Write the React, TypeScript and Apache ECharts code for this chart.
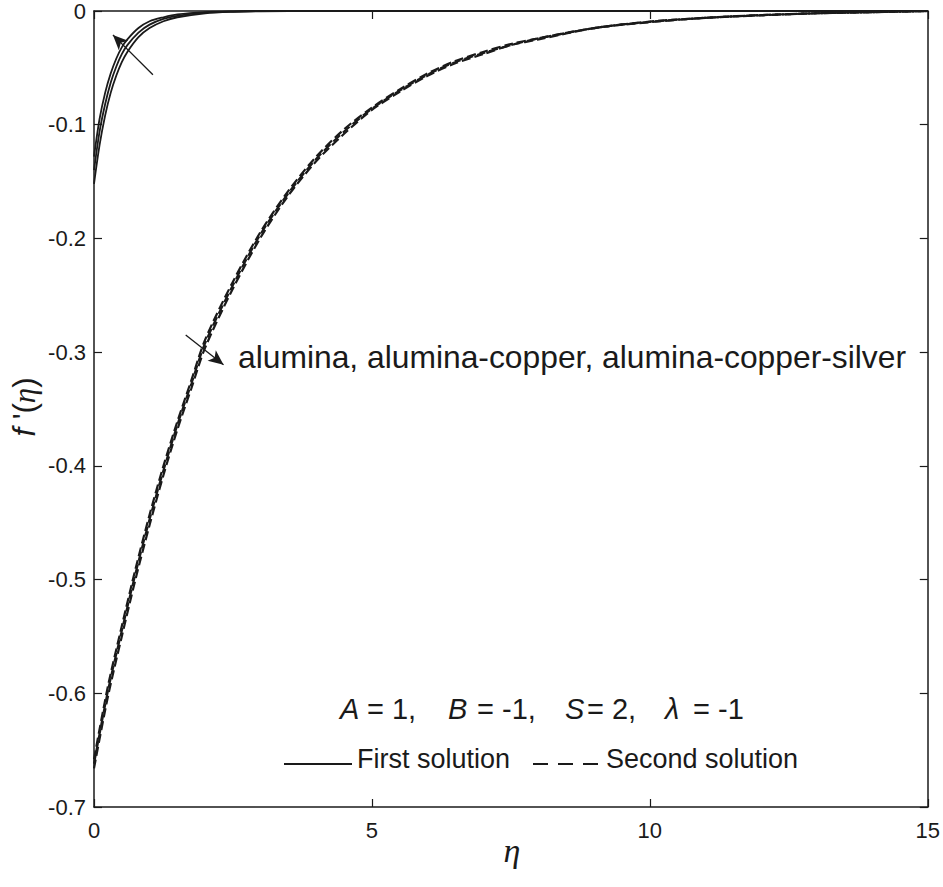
import React, { useEffect, useRef } from "react";
import * as echarts from "echarts";

// First solution (solid) — three nanofluids
const etaFirst = [0, 0.1, 0.2, 0.3, 0.4, 0.5, 0.6, 0.8, 1.0, 1.25, 1.5, 2, 2.5, 3, 4, 6, 10, 15];
const firstAlumina = [-0.152, -0.118, -0.092, -0.072, -0.057, -0.045, -0.036, -0.023, -0.015, -0.009, -0.0055, -0.002, -0.0007, -0.0002, 0, 0, 0, 0];
const firstAluminaCopper = [-0.140, -0.106, -0.082, -0.063, -0.049, -0.038, -0.030, -0.019, -0.012, -0.007, -0.0042, -0.0015, -0.0005, -0.0001, 0, 0, 0, 0];
const firstAluminaCopperSilver = [-0.128, -0.095, -0.072, -0.055, -0.042, -0.032, -0.025, -0.015, -0.009, -0.0055, -0.003, -0.001, -0.0003, 0, 0, 0, 0, 0];

// Second solution (dashed)
const etaSecond = [0, 0.25, 0.5, 0.75, 1, 1.25, 1.5, 1.75, 2, 2.5, 3, 3.5, 4, 4.5, 5, 5.5, 6, 6.5, 7, 7.5, 8, 9, 10, 11, 12, 13, 14, 15];
const secondAlumina = [-0.658, -0.594, -0.541, -0.490, -0.443, -0.400, -0.361, -0.325, -0.289, -0.238, -0.194, -0.158, -0.128, -0.104, -0.085, -0.069, -0.055, -0.044, -0.036, -0.029, -0.024, -0.015, -0.0093, -0.006, -0.0036, -0.002, -0.001, 0];
const secondAluminaCopper = [-0.662, -0.598, -0.545, -0.494, -0.447, -0.404, -0.364, -0.328, -0.292, -0.241, -0.196, -0.160, -0.130, -0.106, -0.086, -0.070, -0.056, -0.045, -0.037, -0.030, -0.024, -0.015, -0.0095, -0.006, -0.0037, -0.002, -0.001, 0];
const secondAluminaCopperSilver = [-0.666, -0.603, -0.550, -0.499, -0.452, -0.408, -0.368, -0.332, -0.296, -0.244, -0.199, -0.162, -0.132, -0.108, -0.087, -0.071, -0.057, -0.046, -0.038, -0.030, -0.025, -0.015, -0.0098, -0.006, -0.0038, -0.002, -0.001, 0];

// Annotation arrows (data coords: [tail, head])
const arrowFirst = [[1.06, -0.056], [0.34, -0.021]];
const arrowSecond = [[1.65, -0.285], [2.33, -0.311]];

const xTicks = { min: 0, max: 15, interval: 5 };
const yTicks = { min: -0.7, max: 0, interval: 0.1 };

const INK = "#1a1a1a";
const SANS = "'Liberation Sans', Arial, Helvetica, sans-serif";
const SERIF = "'Liberation Serif', 'Times New Roman', serif";

function pairs(xs: number[], ys: number[]) {
  return xs.map((x, i) => [x, ys[i]]);
}

export default function App() {
  const ref = useRef<HTMLDivElement>(null);
  useEffect(() => {
    document.body.style.margin = "0";
    if (!ref.current) return;
    const chart = echarts.init(ref.current, undefined, { renderer: "svg" });

    const axisCommon = {
      axisLine: { show: true, onZero: false, lineStyle: { color: INK, width: 1.5 } },
      axisTick: { show: true, inside: true, length: 8, lineStyle: { color: INK, width: 1.2 } },
      splitLine: { show: false },
    };

    const solid = (name: string, ys: number[]) => ({
      name,
      type: "line",
      data: pairs(etaFirst, ys),
      showSymbol: false,
      smooth: 0.3,
      lineStyle: { color: INK, width: 1.8, type: "solid" },
      z: 3,
    });
    const dashed = (name: string, ys: number[]) => ({
      name,
      type: "line",
      data: pairs(etaSecond, ys),
      showSymbol: false,
      smooth: 0.3,
      lineStyle: { color: INK, width: 2.2, type: [9, 4] },
      z: 3,
    });

    const arrowLine = (a: number[][]) => [
      { coord: a[0], symbol: "none" },
      { coord: a[1], symbol: "arrow", symbolSize: [10, 15] },
    ];

    const series: any[] = [
      {
        ...solid("First alumina", firstAlumina),
        markLine: {
          silent: true,
          animation: false,
          label: { show: false },
          lineStyle: { color: INK, width: 1.3, type: "solid" },
          data: [arrowLine(arrowFirst), arrowLine(arrowSecond)],
        },
      },
      solid("First alumina-copper", firstAluminaCopper),
      solid("First alumina-copper-silver", firstAluminaCopperSilver),
      dashed("Second alumina", secondAlumina),
      dashed("Second alumina-copper", secondAluminaCopper),
      dashed("Second alumina-copper-silver", secondAluminaCopperSilver),
    ];

    const textStyle = (text: string, size: number, extra: any = {}) => ({
      text,
      font: `${extra.italic ? "italic " : ""}${size}px ${extra.family || SANS}`,
      fill: INK,
      textAlign: extra.align || "left",
      textVerticalAlign: "middle",
    });

    const graphic: any[] = [
      // curve group label
      { type: "text", x: 238, y: 357, style: textStyle("alumina, alumina-copper, alumina-copper-silver", 31.8) },
      // parameters row
      { type: "text", x: 340, y: 709, style: textStyle("A", 29, { italic: true }) },
      { type: "text", x: 367, y: 709, style: textStyle("= 1,", 29) },
      { type: "text", x: 448, y: 709, style: textStyle("B", 29, { italic: true }) },
      { type: "text", x: 477, y: 709, style: textStyle("= -1,", 29) },
      { type: "text", x: 565, y: 709, style: textStyle("S", 29, { italic: true }) },
      { type: "text", x: 587, y: 709, style: textStyle("= 2,", 29) },
      { type: "text", x: 665, y: 709, style: textStyle("λ", 29, { italic: true }) },
      { type: "text", x: 693, y: 709, style: textStyle("= -1", 29) },
      // legend
      { type: "line", shape: { x1: 284, y1: 764, x2: 352, y2: 764 }, style: { stroke: INK, lineWidth: 1.8 } },
      { type: "text", x: 357, y: 759, style: textStyle("First solution", 27) },
      { type: "line", shape: { x1: 533, y1: 764, x2: 601, y2: 764 }, style: { stroke: INK, lineWidth: 1.8, lineDash: [15, 10] } },
      { type: "text", x: 606, y: 759, style: textStyle("Second solution", 27) },
      // axis titles
      { type: "text", x: 512, y: 850, style: textStyle("η", 34, { italic: true, family: SERIF, align: "center" }) },
      {
        type: "text",
        x: 24,
        y: 407,
        rotation: Math.PI / 2,
        style: {
          text: "{i|f}{n| '(}{g|η}{n|)}",
          textAlign: "center",
          textVerticalAlign: "middle",
          fill: INK,
          rich: {
            i: { font: `italic 31px ${SANS}`, fill: INK },
            n: { font: `31px ${SANS}`, fill: INK },
            g: { font: `italic 31px ${SERIF}`, fill: INK },
          },
        },
      },
    ];

    chart.setOption({
      animation: false,
      backgroundColor: "#ffffff",
      grid: { left: 94, right: 12, top: 7, bottom: 80, containLabel: false },
      xAxis: [
        {
          type: "value",
          ...xTicks,
          position: "bottom",
          ...axisCommon,
          axisLabel: { color: INK, fontSize: 22, fontFamily: SANS, margin: 12 },
        },
        {
          type: "value",
          ...xTicks,
          position: "top",
          ...axisCommon,
          axisLabel: { show: false },
        },
      ],
      yAxis: [
        {
          type: "value",
          ...yTicks,
          position: "left",
          ...axisCommon,
          axisLabel: {
            color: INK,
            fontSize: 22,
            fontFamily: SANS,
            margin: 8,
            formatter: (v: number) => (Math.abs(v) < 1e-9 ? "0" : v.toFixed(1)),
          },
        },
        {
          type: "value",
          ...yTicks,
          position: "right",
          ...axisCommon,
          axisLabel: { show: false },
        },
      ],
      series,
      graphic,
    });
    return () => chart.dispose();
  }, []);
  return <div ref={ref} style={{ position: "fixed", left: 0, top: 0, width: 943, height: 887 }} />;
}
